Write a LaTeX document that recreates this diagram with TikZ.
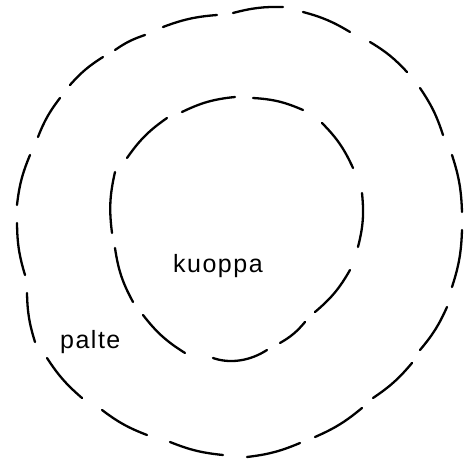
\documentclass[tikz,border=0pt]{standalone}
\usepackage{fontspec}
\setmainfont{Liberation Sans}
\begin{document}
\begin{tikzpicture}[x=1pt,y=-1pt,
  stroke/.style={line width=2.3pt,line cap=round},
  lbl/.style={inner sep=0pt,font=\fontsize{25}{28}\selectfont\addfontfeature{LetterSpace=6}}]
\useasboundingbox[fill=white] (0,0) rectangle (467,462);
% outer loop
\foreach \ax/\ay/\bx/\by in {163/27/217/15,233/13/283/7,303/12/350/32,370/42/407/72,420/88/443/135,452/155/462/212,462/230/452/287,447/307/420/350,412/363/373/398,362/408/315/437,300/443/247/457,223/455/170/442,147/435/102/410,82/398/47/358,35/342/27/293,25/275/17/223,17/205/30/155,38/137/60/98,70/85/103/57,115/50/145/35}
  \draw[stroke] (\ax,\ay) to[bend left=8] (\bx,\by);
% inner loop
\foreach \ax/\ay/\bx/\by in {182/112/235/97,253/98/303/110,322/123/353/168,362/193/358/247,350/270/315/312,305/322/280/343,185/353/143/315,133/302/115/248,112/233/115/172,127/158/167/118}
  \draw[stroke] (\ax,\ay) to[bend left=10] (\bx,\by);
\draw[stroke] (267,350) .. controls (250,361) and (230,364) .. (213,358);
\node[lbl,anchor=base west] (kuoppa) at (173,273) {kuoppa};
\node[lbl,anchor=base west] (palte) at (60,349) {palte};
\end{tikzpicture}
\end{document}
